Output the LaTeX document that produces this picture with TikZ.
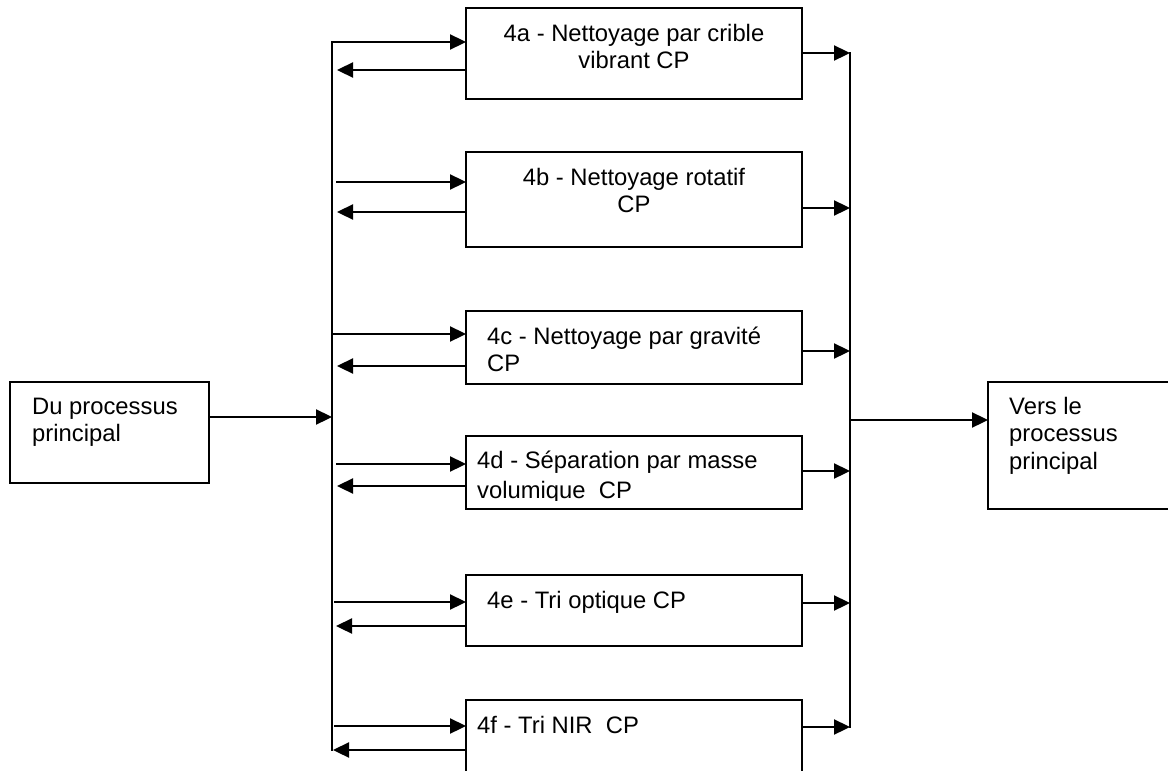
\documentclass[tikz,border=0pt]{standalone}
\usepackage{fontspec}
\setmainfont{Liberation Sans}
\usetikzlibrary{arrows.meta}
\begin{document}
\begin{tikzpicture}[x=1pt,y=-1pt,
  box/.style={draw,line width=2.3pt,inner sep=0pt,outer sep=0pt,anchor=north west},
  lbl/.style={inner sep=0pt,font=\fontsize{23.8}{27.6}\selectfont},
  flow/.style={line width=2.3pt,-{Triangle[length=16pt,width=15pt]}},
  bus/.style={line width=2.3pt,line cap=rect}]
\fill[white] (0,0) rectangle (1168,771);
\useasboundingbox (0,0) rectangle (1168,771);

% process boxes
\node[box,minimum width=336pt,minimum height=91pt] (A) at (466,8) {};
\node[box,minimum width=336pt,minimum height=95pt] (B) at (466,152) {};
\node[box,minimum width=336pt,minimum height=73pt] (C) at (466,311) {};
\node[box,minimum width=336pt,minimum height=73pt] (D) at (466,436) {};
\node[box,minimum width=336pt,minimum height=71pt] (E) at (466,575) {};
\node[box,minimum width=336pt,minimum height=100pt] (F) at (466,700) {};
\node[box,minimum width=199pt,minimum height=101pt] (src) at (10,382) {};
\node[box,minimum width=200pt,minimum height=127pt] (dst) at (988,382) {};

% labels
\node[lbl,anchor=base] (At) at (634,41)
  {\begin{tabular}[t]{@{}c@{}}4a - Nettoyage par crible\\vibrant CP\end{tabular}};
\node[lbl,anchor=base] (Bt) at (634,185)
  {\begin{tabular}[t]{@{}c@{}}4b - Nettoyage rotatif\\CP\end{tabular}};
\node[lbl,anchor=base west] (Ct) at (487,344)
  {\begin{tabular}[t]{@{}l@{}}4c - Nettoyage par gravité\\CP\end{tabular}};
\begin{scope}
  \clip (466,436) rectangle (802,500);
  \node[lbl,anchor=base west] (Dt) at (477,468)
    {\begin{tabular}[t]{@{}l@{}}4d - Séparation par masse\\[2.4pt]volumique\ \ CP\end{tabular}};
\end{scope}
\node[lbl,anchor=base west] (Et) at (487,608) {4e - Tri optique CP};
\node[lbl,anchor=base west] (Ft) at (477,733) {4f - Tri NIR\ \ CP};
\node[lbl,anchor=base west] (srct) at (32,414)
  {\begin{tabular}[t]{@{}l@{}}Du processus\\principal\end{tabular}};
\node[lbl,anchor=base west] (dstt) at (1009,414)
  {\begin{tabular}[t]{@{}l@{}}Vers le\\processus\\principal\end{tabular}};

% taps on the left collector
\coordinate (a-in) at (332,42);  \coordinate (a-out) at (337,70);
\coordinate (b-in) at (336,182); \coordinate (b-out) at (337,212);
\coordinate (c-in) at (332,334); \coordinate (c-out) at (337,366);
\coordinate (d-in) at (336,464); \coordinate (d-out) at (337,486);
\coordinate (e-in) at (334,602); \coordinate (e-out) at (336,626);
\coordinate (f-in) at (334,726); \coordinate (f-out) at (333,750);
\coordinate (lbot) at (332,750);
\coordinate (s-in) at (332,417);

% taps on the right collector
\coordinate (a-r) at (850,53);
\coordinate (b-r) at (850,208);
\coordinate (c-r) at (850,351);
\coordinate (d-r) at (850,471);
\coordinate (e-r) at (850,603);
\coordinate (f-r) at (850,727);
\coordinate (t-out) at (851,420);

% collectors
\draw[bus] (a-in) -- (lbot);
\draw[bus] (a-r) -- (f-r);

% feed from and return to the main process
\draw[flow] (src.east |- s-in) -- (s-in);
\draw[flow] (t-out) -- (dst.west |- t-out);

% box connections
\draw[flow] (a-in) -- (A.west |- a-in);
\draw[flow] (A.west |- a-out) -- (a-out);
\draw[flow] (A.east |- a-r) -- (a-r);

\draw[flow] (b-in) -- (B.west |- b-in);
\draw[flow] (B.west |- b-out) -- (b-out);
\draw[flow] (B.east |- b-r) -- (b-r);

\draw[flow] (c-in) -- (C.west |- c-in);
\draw[flow] (C.west |- c-out) -- (c-out);
\draw[flow] (C.east |- c-r) -- (c-r);

\draw[flow] (d-in) -- (D.west |- d-in);
\draw[flow] (D.west |- d-out) -- (d-out);
\draw[flow] (D.east |- d-r) -- (d-r);

\draw[flow] (e-in) -- (E.west |- e-in);
\draw[flow] (E.west |- e-out) -- (e-out);
\draw[flow] (E.east |- e-r) -- (e-r);

\draw[flow] (f-in) -- (F.west |- f-in);
\draw[flow] (F.west |- f-out) -- (f-out);
\draw[flow] (F.east |- f-r) -- (f-r);
\end{tikzpicture}
\end{document}
